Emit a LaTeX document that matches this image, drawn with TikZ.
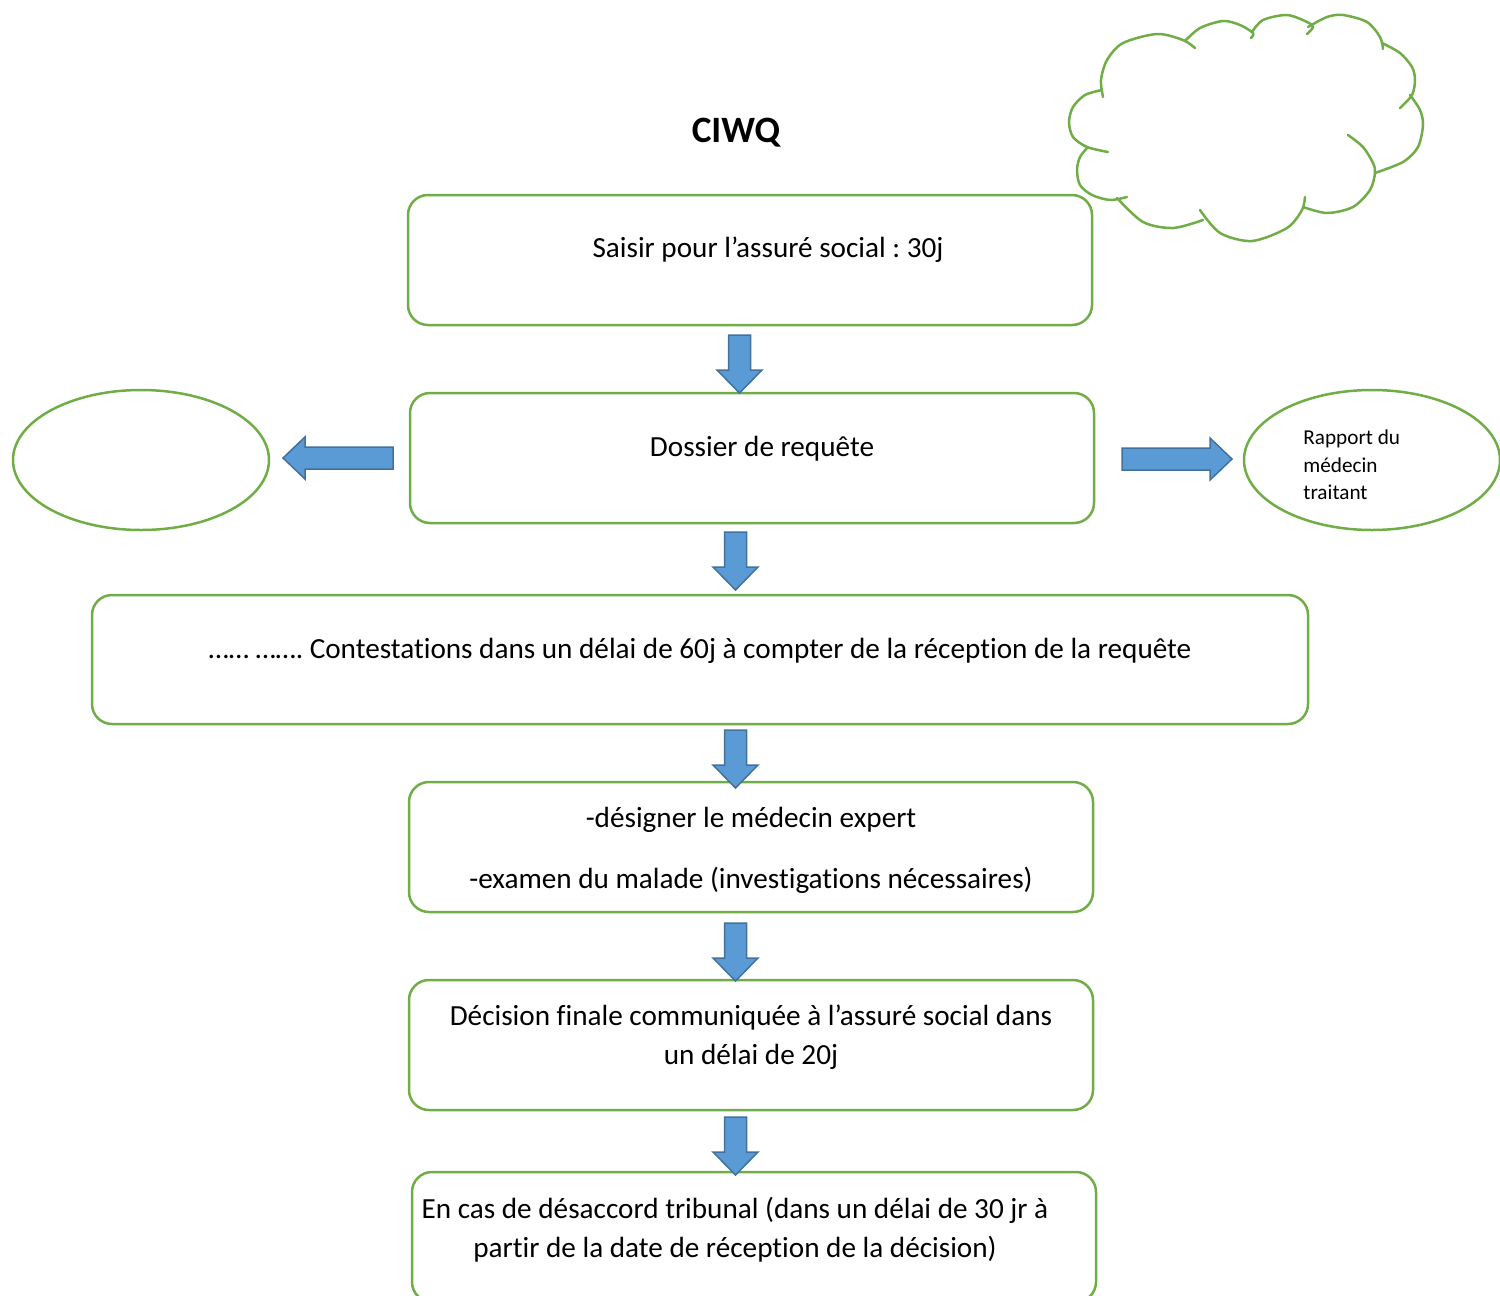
\documentclass[tikz,border=0pt]{standalone}
\usepackage{fontspec}
\setmainfont{Carlito}[Ligatures=NoCommon]
\frenchspacing
\usetikzlibrary{shapes.geometric}
\definecolor{boxgreen}{HTML}{70AD47}
\definecolor{arrfill}{HTML}{5B9BD5}
\definecolor{arrline}{HTML}{41719C}
\tikzset{
  procbox/.style={draw=boxgreen,line width=1.25pt,rounded corners=10pt,
    minimum width=342pt,minimum height=65pt,inner sep=0pt},
  sidebox/.style={ellipse,draw=boxgreen,line width=1.25pt,
    minimum width=128pt,minimum height=70pt,inner sep=0pt},
  cloudline/.style={draw=boxgreen,line width=1.25pt,line cap=round},
  boxlbl/.style={font=\fontsize{14.6}{19.5}\selectfont,align=center,inner sep=0pt},
  smalllbl/.style={font=\fontsize{10.6}{13.75}\selectfont,align=left,inner sep=0pt},
  titlelbl/.style={font=\fontsize{18.6}{22}\selectfont\bfseries,inner sep=0pt},
  blockarr/.style={fill=arrfill,draw=arrline,line width=0.75pt},
  pics/downarrow/.style={code={
    \draw[blockarr] (-11,-58) -- (11,-58) -- (11,-23) -- (22.5,-23) -- (0,0)
      -- (-22.5,-23) -- (-11,-23) -- cycle;}},
  pics/sidearrow/.style={code={
    \draw[blockarr] (-110,-11) -- (-22,-11) -- (-22,-21) -- (0,0) -- (-22,21)
      -- (-22,11) -- (-110,11) -- cycle;}},
}
\begin{document}
\begin{tikzpicture}[x=0.5pt,y=-0.5pt]
  \path[use as bounding box,clip] (0,0) rectangle (1500,1296);

  % title and cloud
  \node[titlelbl] (title) at (736,133) {CIWQ};
  \draw[cloudline] plot[smooth] coordinates {(1103,97) (1101,80) (1107,60) (1123,43) (1157,34) (1183,40) (1195,48)};
  \draw[cloudline] plot[smooth] coordinates {(1185,41) (1200,28) (1223,21) (1240,25) (1253,33) (1251,38)};
  \draw[cloudline] plot[smooth] coordinates {(1252,32) (1263,20) (1287,15) (1307,22) (1313,27) (1307,34)};
  \draw[cloudline] plot[smooth] coordinates {(1308,27) (1327,17) (1343,15) (1367,22) (1380,37) (1383,49)};
  \draw[cloudline] plot[smooth] coordinates {(1382,43) (1400,53) (1412,67) (1415,80) (1412,95) (1400,108)};
  \draw[cloudline] plot[smooth] coordinates {(1410,95) (1420,110) (1423,125) (1418,147) (1403,162) (1375,173)};
  \draw[cloudline] plot[smooth] coordinates {(1348,135) (1363,147) (1373,163) (1375,173) (1370,190) (1353,207) (1327,213) (1303,207)};
  \draw[cloudline] plot[smooth] coordinates {(1305,197) (1302,210) (1287,228) (1252,241) (1220,233) (1200,210)};
  \draw[cloudline] plot[smooth] coordinates {(1203,220) (1173,228) (1143,222) (1117,198)};
  \draw[cloudline] plot[smooth] coordinates {(1127,197) (1110,200) (1092,195) (1080,185) (1077,170) (1080,157) (1088,147)};
  \draw[cloudline] plot[smooth] coordinates {(1108,152) (1087,147) (1073,137) (1069,122) (1073,107) (1085,95) (1102,90)};

  % boxes
  \node[procbox] (b1) at (750,260) {};
  \node[procbox] (b2) at (752,458) {};
  \node[procbox,minimum width=608pt,minimum height=64.5pt] (b3) at (700,659.5) {};
  \node[procbox] (b4) at (751,847) {};
  \node[procbox] (b5) at (751,1045) {};
  \node[procbox] (b6) at (754,1237) {};
  \node[sidebox] (e1) at (141,460) {};
  \node[sidebox] (e2) at (1372,460) {};

  % texts
  \node[boxlbl] (t1) at (768,250) {Saisir pour l’assuré social : 30j};
  \node[boxlbl] (t2) at (762,449) {Dossier de requête};
  \node[boxlbl] (t3) at (700,651) {…… ……. Contestations dans un délai de 60j à compter de la réception de la requête};
  \node[boxlbl] (t4a) at (751,820) {-désigner le médecin expert};
  \node[boxlbl] (t4b) at (751,880) {-examen du malade (investigations nécessaires)};
  \node[boxlbl] (t5) at (751,1037.5) {Décision finale communiquée à l’assuré social dans\\un délai de 20j};
  \node[boxlbl] (t6) at (735,1229.5) {En cas de désaccord tribunal (dans un délai de 30 jr à\\partir de la date de réception de la décision)};
  \node[smalllbl,anchor=west] (t7) at (1303,465) {Rapport du\\médecin\\traitant};

  % block arrows
  \pic at (739.5,393) {downarrow};
  \pic at (735.5,590) {downarrow};
  \pic at (735.5,788) {downarrow};
  \pic at (735.5,981) {downarrow};
  \pic at (735.5,1175) {downarrow};
  \pic at (1232,459) {sidearrow};
  \pic[rotate=180] at (283,458) {sidearrow};
\end{tikzpicture}
\end{document}
